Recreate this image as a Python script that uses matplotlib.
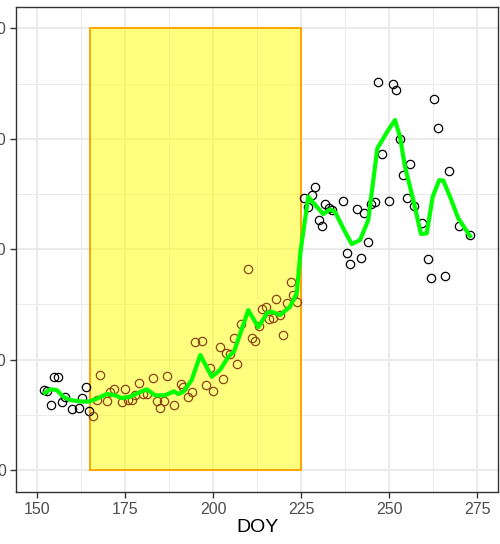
import matplotlib
matplotlib.use("Agg")
import matplotlib.pyplot as plt
from matplotlib.patches import Rectangle

plt.rcParams['font.family'] = ['Liberation Sans', 'DejaVu Sans']

# observations
doy = [152.07, 152.92, 154.91, 155.87, 153.97, 157.01, 158.03, 159.85, 162.0, 162.85,
       163.82, 164.84, 165.98, 167.88, 167.03, 169.78, 170.80, 171.94, 174.04, 174.89,
       175.91, 176.96, 177.89, 178.94, 180.16, 181.13, 182.83, 183.97, 184.99, 186.04,
       186.89, 188.96, 190.95, 191.35, 192.93, 193.98, 194.92, 196.82, 198.04, 199.01,
       199.94, 201.93, 203.63, 204.77, 205.82, 206.75, 202.87, 207.80, 209.79, 210.93,
       211.86, 213.0, 213.77, 214.98, 215.92, 216.89, 217.82, 218.96, 219.89, 220.86,
       221.99, 222.73, 223.87, 225.85, 226.82, 227.95, 228.89, 229.94, 230.88, 231.81,
       232.95, 233.80, 236.83, 237.88, 238.91, 240.81, 241.86, 242.79, 243.93, 244.86,
       245.92, 246.77, 247.90, 249.89, 250.94, 251.87, 252.92, 253.77, 254.91, 255.85,
       256.90, 259.17, 260.87, 261.81, 262.74, 263.88, 265.87, 266.92, 269.84, 272.87]
value = [7.25, 7.18, 8.40, 8.45, 5.86, 6.13, 6.61, 5.50, 5.64, 6.55,
         7.55, 5.34, 4.92, 8.58, 6.34, 6.25, 7.07, 7.31, 6.19, 7.34,
         6.31, 6.34, 6.77, 7.91, 6.88, 6.88, 8.36, 6.28, 5.64, 6.28,
         8.51, 5.86, 7.79, 7.55, 6.64, 7.07, 11.57, 11.69, 7.70, 9.21,
         7.18, 11.17, 10.57, 10.51, 11.93, 9.57, 8.22, 13.22, 18.21, 11.93,
         11.71, 13.04, 14.56, 14.79, 13.65, 13.80, 15.46, 14.01, 12.20, 15.10,
         17.0, 15.85, 15.24, 24.67, 23.80, 24.91, 25.63, 22.62, 22.07, 24.07,
         23.73, 23.52, 24.37, 19.68, 18.63, 23.61, 19.20, 23.31, 20.68, 24.07,
         24.28, 35.15, 28.65, 24.34, 34.94, 34.39, 30.01, 26.69, 24.61, 27.69,
         23.91, 22.40, 19.09, 17.36, 33.61, 30.95, 17.55, 27.08, 22.13, 21.31]

# smoothed curve
smooth_doy = [152.27, 153.69, 155.59, 157.46, 159.36, 162.20, 164.56, 166.94, 169.78, 172.13,
              174.04, 176.39, 178.75, 181.13, 183.49, 186.32, 188.88, 190.10, 191.52, 193.90,
              196.34, 199.58, 201.93, 204.29, 205.90, 209.96, 212.80, 215.35, 216.60, 218.96,
              221.79, 223.69, 224.83, 226.99, 229.37, 231.24, 233.14, 234.56, 236.92, 239.30,
              241.66, 244.01, 246.57, 249.69, 251.59, 253.01, 254.43, 256.78, 258.97, 260.59,
              262.29, 264.16, 265.30, 267.20, 269.55, 272.87]
smooth_val = [7.00, 7.31, 7.25, 6.64, 6.34, 6.22, 6.19, 6.46, 6.88, 6.77,
              6.52, 6.64, 7.00, 7.31, 6.77, 6.77, 7.13, 6.88, 7.09, 8.15,
              10.42, 8.45, 9.06, 10.26, 10.72, 14.49, 12.93, 14.25, 14.34, 14.04,
              14.79, 16.01, 19.93, 24.76, 23.85, 23.19, 23.61, 23.40, 21.89, 20.47,
              20.83, 22.65, 29.14, 30.80, 31.70, 30.19, 27.47, 24.46, 21.38, 21.44,
              24.76, 26.27, 26.21, 24.76, 22.80, 21.20]

# highlighted window
win_start, win_end = 165, 225
win_low, win_high = 0, 40

x_ticks = [150, 175, 200, 225, 250, 275]
y_ticks = [0, 10, 20, 30, 40]

fig = plt.figure(figsize=(5.0, 5.44), dpi=100)
ax = fig.add_axes([0.032, 0.0956, 0.964, 0.8914])

ax.set_xlim(144.04, 280.82)
ax.set_ylim(-1.99, 41.94)
ax.set_xticks(x_ticks)
ax.set_yticks(y_ticks)
ax.set_xticks([162.5, 187.5, 212.5, 237.5, 262.5], minor=True)
ax.set_yticks([5, 15, 25, 35], minor=True)
ax.grid(which='major', color='#ebebeb', linewidth=1.4)
ax.grid(which='minor', color='#ebebeb', linewidth=0.7)
ax.set_axisbelow(True)

inside = [win_start <= d <= win_end for d in doy]
out_x = [d for d, m in zip(doy, inside) if not m]
out_y = [v for v, m in zip(value, inside) if not m]
in_x = [d for d, m in zip(doy, inside) if m]
in_y = [v for v, m in zip(value, inside) if m]

# translucent window so the grid still shows through
ax.add_patch(Rectangle((win_start, win_low), win_end - win_start, win_high - win_low,
                       facecolor=(1, 1, 0, 0.5), edgecolor='orange', linewidth=1.4, zorder=1.5))

ax.plot(out_x, out_y, 'o', markerfacecolor='none', markeredgecolor='black',
        markersize=6, markeredgewidth=0.9, zorder=2)
ax.plot(in_x, in_y, 'o', markerfacecolor='none', markeredgecolor='#8b4513',
        markersize=6, markeredgewidth=0.9, zorder=2)

ax.plot(smooth_doy, smooth_val, color='#00ff00', linewidth=3, zorder=4)

for s in ax.spines.values():
    s.set_color('#333333')
    s.set_linewidth(1.0)
ax.tick_params(which='major', length=4, width=1.0, color='#333333',
               labelcolor='#4d4d4d', labelsize=11.5, pad=3)
ax.tick_params(which='minor', length=0)
ax.set_xlabel('DOY', fontsize=14, labelpad=2)

fig.savefig('out.png', dpi=100)
